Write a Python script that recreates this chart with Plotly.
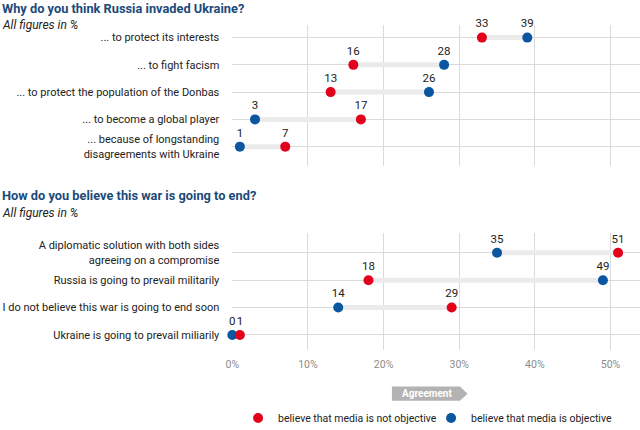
import plotly.graph_objects as go

# data
reasons = ["... to protect its interests", "... to fight facism",
           "... to protect the population of the Donbas", "... to become a global player",
           "... because of longstanding<br>disagreements with Ukraine"]
reason_not_obj = [33, 16, 13, 17, 7]
reason_obj = [39, 28, 26, 3, 1]

outcomes = ["A diplomatic solution with both sides<br>agreeing on a compromise",
            "Russia is going to prevail militarily",
            "I do not believe this war is going to end soon",
            "Ukraine is going to prevail miliarily"]
end_not_obj = [51, 18, 29, 1]
end_obj = [35, 49, 14, 0]

x_ticks = [0, 10, 20, 30, 40, 50]
x_labels = ["0%", "10%", "20%", "30%", "40%", "50%"]

RED = "#e2001a"
BLUE = "#0b56a0"
CONN = "#ebebeb"
GRID = "#dadada"
TITLE = "#1b4a7a"
FONT = "Roboto, sans-serif"

fig = go.Figure()


def add_block(cats, not_obj, obj, xa, ya, legend):
    cx, cy = [], []
    for c, a, b in zip(cats, not_obj, obj):
        cx += [a, b, None]
        cy += [c, c, None]
    fig.add_trace(go.Scatter(x=cx, y=cy, mode="lines", line=dict(color=CONN, width=5),
                             xaxis=xa, yaxis=ya, showlegend=False, hoverinfo="skip"))
    fig.add_trace(go.Scatter(x=obj, y=cats, mode="markers+text", text=[str(v) for v in obj],
                             textposition="top center", textfont=dict(size=11.5, color="#222"),
                             marker=dict(color=BLUE, size=10), name="believe that media is objective",
                             legendrank=2, xaxis=xa, yaxis=ya, showlegend=legend, cliponaxis=False))
    fig.add_trace(go.Scatter(x=not_obj, y=cats, mode="markers+text", text=[str(v) for v in not_obj],
                             textposition="top center", textfont=dict(size=11.5, color="#222"),
                             marker=dict(color=RED, size=10), name="believe that media is not objective",
                             legendrank=1, xaxis=xa, yaxis=ya, showlegend=legend, cliponaxis=False))


add_block(reasons, reason_not_obj, reason_obj, "x", "y", True)
add_block(outcomes, end_not_obj, end_obj, "x2", "y2", False)

xcommon = dict(range=[0, 53.9], domain=[0.363, 1.0], tickvals=x_ticks, showgrid=True,
               gridcolor=GRID, zeroline=False, showline=False, ticks="", automargin=False)
ycommon = dict(type="category", showgrid=True, gridcolor=GRID, ticks="", ticklabelstandoff=12,
               tickfont=dict(size=11, color="#222"), showline=False, zeroline=False,
               automargin=False)

fig.update_layout(
    width=640, height=430,
    margin=dict(l=0, r=0, t=0, b=0, autoexpand=False),
    paper_bgcolor="white", plot_bgcolor="white",
    font=dict(family=FONT, color="#222"),
    xaxis=dict(xcommon, anchor="y", showticklabels=False),
    yaxis=dict(ycommon, domain=[0.614, 0.942], range=[4.71, -0.465], anchor="x",
               categoryarray=reasons),
    xaxis2=dict(xcommon, anchor="y2", ticktext=x_labels, ticklabelstandoff=6,
                tickfont=dict(size=10.5, color="#8c8c8c")),
    yaxis2=dict(ycommon, domain=[0.186, 0.458], range=[3.55, -0.72], anchor="x2",
                categoryarray=outcomes),
    showlegend=True,
    legend=dict(orientation="h", x=0.372, y=0.028, xanchor="left", yanchor="middle",
                font=dict(size=10.5, color="#222"), itemwidth=30, traceorder="normal",
                entrywidth=148),
)

fig.add_annotation(text="<b>Why do you think Russia invaded Ukraine?</b>", xref="paper", yref="paper",
                   x=0, y=0.981, xanchor="left", yanchor="middle", showarrow=False,
                   font=dict(size=12.8, color=TITLE))
fig.add_annotation(text="<i>All figures in %</i>", xref="paper", yref="paper",
                   x=0, y=0.942, xanchor="left", yanchor="middle", showarrow=False,
                   font=dict(size=12, color="#222"))
fig.add_annotation(text="<b>How do you believe this war is going to end?</b>", xref="paper", yref="paper",
                   x=0, y=0.5465, xanchor="left", yanchor="middle", showarrow=False,
                   font=dict(size=12.8, color=TITLE))
fig.add_annotation(text="<i>All figures in %</i>", xref="paper", yref="paper",
                   x=0, y=0.505, xanchor="left", yanchor="middle", showarrow=False,
                   font=dict(size=12, color="#222"))

# "Agreement" arrow
fig.add_shape(type="path", xref="x2", yref="paper",
              path="M 21.1 0.101 L 30.1 0.101 L 31.1 0.0845 L 30.1 0.068 L 21.1 0.068 Z",
              fillcolor="#b3b3b3", line=dict(width=0))
fig.add_annotation(text="<b>Agreement</b>", xref="x2", yref="paper", x=25.8, y=0.0845,
                   yanchor="middle", showarrow=False, font=dict(size=10, color="white"))

# no page margin so the figure sits at the top-left corner
fig.write_html("out.html", config={"displayModeBar": False},
               post_script="document.body.style.margin='0px';")
